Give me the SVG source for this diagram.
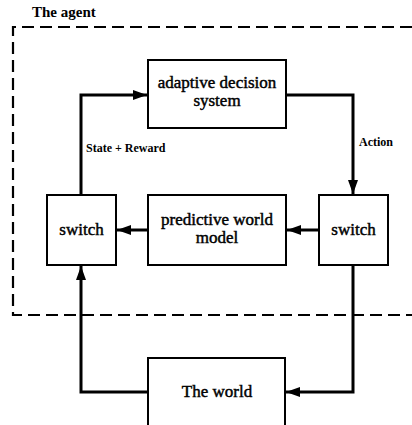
<svg xmlns="http://www.w3.org/2000/svg" width="412" height="425" viewBox="0 0 412 425">
<style>
.box{fill:#fff;stroke:#000;stroke-width:2}
.t{font-family:"Liberation Serif","Times New Roman",serif;font-size:17px;fill:#000;text-anchor:middle;stroke:#000;stroke-width:0.45}
.lbl{font-family:"Liberation Serif","Times New Roman",serif;font-size:12px;font-weight:bold;fill:#000}
.c{fill:none;stroke:#000;stroke-width:3}
</style>
<defs>
<marker id="ah" markerWidth="14" markerHeight="10" refX="14" refY="5" orient="auto" markerUnits="userSpaceOnUse">
<path d="M0,0 L14,5 L0,10 Z" fill="#000"/>
</marker>
</defs>
<rect width="412" height="425" fill="#fff"/>
<g id="agent">
<path d="M412,27 H13 V315 H412" fill="none" stroke="#000" stroke-width="2.2" stroke-dasharray="12,6"/>
<text x="32" y="17" style="font-family:'Liberation Serif','Times New Roman',serif;font-size:15px;font-weight:bold">The agent</text>
</g>
<g id="connectors">
<path class="c" d="M81,195 V95 H147" marker-end="url(#ah)"/>
<path class="c" d="M286,95 H353 V194" marker-end="url(#ah)"/>
<path class="c" d="M319,230 H287" marker-end="url(#ah)"/>
<path class="c" d="M148,230 H117" marker-end="url(#ah)"/>
<path class="c" d="M353,265 V392 H286" marker-end="url(#ah)"/>
<path class="c" d="M148,392 H81 V266" marker-end="url(#ah)"/>
<text class="lbl" x="86" y="152">State + Reward</text>
<text class="lbl" x="359" y="146">Action</text>
</g>
<g id="adaptive">
<rect class="box" x="148" y="60" width="138" height="68"/>
<text class="t" x="217" y="88">adaptive decision</text>
<text class="t" x="217" y="106">system</text>
</g>
<g id="switch-left">
<rect class="box" x="47" y="195" width="69" height="70"/>
<text class="t" x="81.5" y="235">switch</text>
</g>
<g id="predictive">
<rect class="box" x="148" y="195" width="138" height="70"/>
<text class="t" x="217" y="225">predictive world</text>
<text class="t" x="217" y="243">model</text>
</g>
<g id="switch-right">
<rect class="box" x="319" y="195" width="69" height="70"/>
<text class="t" x="353.5" y="235">switch</text>
</g>
<g id="world">
<rect class="box" x="148" y="358" width="137" height="80"/>
<text class="t" x="217" y="397">The world</text>
</g>
</svg>
